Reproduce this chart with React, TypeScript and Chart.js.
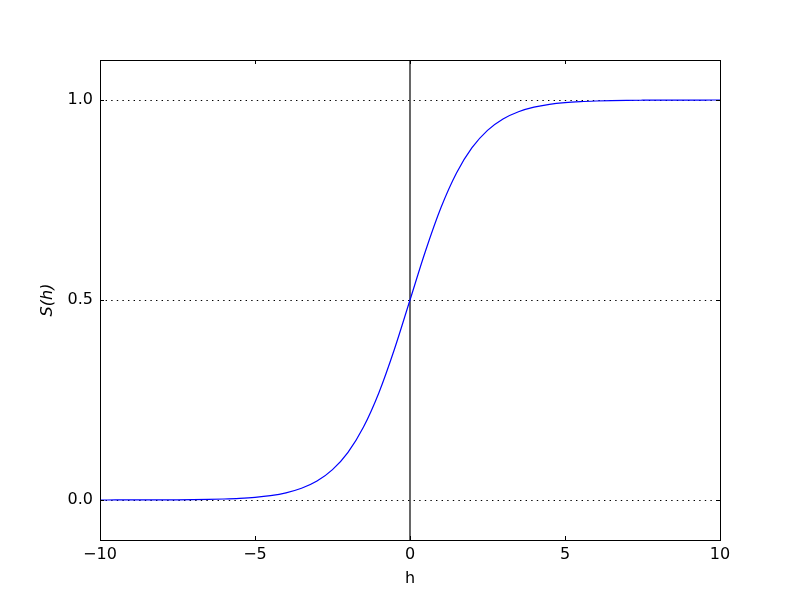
import React, { useEffect, useRef } from "react";
import { Chart, registerables } from "chart.js";

Chart.register(...registerables);

const hValues = [
  -10, -9.5, -9, -8.5, -8, -7.5, -7, -6.5, -6, -5.5, -5, -4.5, -4, -3.5, -3, -2.5, -2, -1.5, -1, -0.5,
  0, 0.5, 1, 1.5, 2, 2.5, 3, 3.5, 4, 4.5, 5, 5.5, 6, 6.5, 7, 7.5, 8, 8.5, 9, 9.5, 10,
];
const sValues = [
  0.00005, 0.00007, 0.00012, 0.0002, 0.00034, 0.00055, 0.00091, 0.0015, 0.0025, 0.0041, 0.0067,
  0.011, 0.018, 0.0293, 0.0474, 0.0759, 0.1192, 0.1824, 0.2689, 0.3775, 0.5, 0.6225, 0.7311,
  0.8176, 0.8808, 0.9241, 0.9526, 0.9707, 0.982, 0.989, 0.9933, 0.9959, 0.9975, 0.9985, 0.99909,
  0.99945, 0.99966, 0.9998, 0.99988, 0.99993, 0.99995,
];
const vLineH = [0, 0];
const vLineS = [-0.1, 1.1];
const xTicks = [-10, -5, 0, 5, 10];
const yTicks = [0, 0.5, 1.0];
const xRange = [-10, 10];
const yRange = [-0.1, 1.1];

const framePlugin = {
  id: "frameTicks",
  afterDatasetsDraw(chart: any) {
    const { ctx, chartArea } = chart;
    const { left, right, top, bottom } = chartArea;
    ctx.save();
    ctx.strokeStyle = "#000";
    ctx.lineWidth = 1;
    ctx.strokeRect(left + 0.5, top + 0.5, right - left, bottom - top);
    const len = 4;
    ctx.beginPath();
    const xs = chart.scales.x;
    xs.ticks.forEach((t: any) => {
      const px = Math.round(xs.getPixelForValue(t.value)) + 0.5;
      ctx.moveTo(px, bottom);
      ctx.lineTo(px, bottom - len);
      ctx.moveTo(px, top);
      ctx.lineTo(px, top + len);
    });
    const ys = chart.scales.y;
    ys.ticks.forEach((t: any) => {
      const py = Math.round(ys.getPixelForValue(t.value)) + 0.5;
      ctx.moveTo(left, py);
      ctx.lineTo(left + len, py);
      ctx.moveTo(right, py);
      ctx.lineTo(right - len, py);
    });
    ctx.stroke();
    ctx.restore();
  },
};

export default function App() {
  const ref = useRef<HTMLCanvasElement | null>(null);
  useEffect(() => {
    if (!ref.current) return;
    const chart = new Chart(ref.current, {
      type: "scatter",
      data: {
        datasets: [
          {
            data: hValues.map((h, i) => ({ x: h, y: sValues[i] })),
            showLine: true,
            borderColor: "#0000ff",
            backgroundColor: "#0000ff",
            borderWidth: 1.2,
            pointRadius: 0,
            cubicInterpolationMode: "monotone",
          },
          {
            data: vLineH.map((h, i) => ({ x: h, y: vLineS[i] })),
            showLine: true,
            borderColor: "#000000",
            borderWidth: 1.2,
            pointRadius: 0,
          },
        ],
      },
      options: {
        responsive: false,
        animation: false,
        layout: { padding: { top: 60, right: 80, left: 0, bottom: 0 } },
        plugins: { legend: { display: false }, tooltip: { enabled: false } },
        scales: {
          x: {
            type: "linear",
            min: xRange[0],
            max: xRange[1],
            afterBuildTicks: (s: any) => {
              s.ticks = xTicks.map((v) => ({ value: v }));
            },
            afterFit: (s: any) => {
              s.height = 60;
            },
            grid: { display: false, drawTicks: false },
            border: { display: false },
            ticks: {
              color: "#000",
              padding: 5,
              maxRotation: 0,
              font: { family: "DejaVu Sans", size: 16 },
              callback: (v: any) => String(v).replace("-", "\u2212"),
            },
            title: {
              display: true,
              text: "h",
              color: "#000",
              font: { family: "DejaVu Sans", size: 16 },
              padding: { top: 0, bottom: 12 },
            },
          },
          y: {
            type: "linear",
            min: yRange[0],
            max: yRange[1],
            afterBuildTicks: (s: any) => {
              s.ticks = yTicks.map((v) => ({ value: v }));
            },
            afterFit: (s: any) => {
              s.width = 100;
            },
            grid: {
              display: true,
              drawTicks: false,
              color: "#000",
              lineWidth: 1,
            },
            border: { display: false, dash: [1.4, 4.2] },
            ticks: {
              color: "#000",
              padding: 7,
              font: { family: "DejaVu Sans", size: 16 },
              callback: (v: any) => Number(v).toFixed(1),
            },
            title: {
              display: true,
              text: "S(h)",
              color: "#000",
              font: { family: "DejaVu Sans", size: 16, style: "italic" },
              padding: { top: 38, bottom: 0 },
            },
          },
        },
      },
      plugins: [framePlugin],
    } as any);
    return () => chart.destroy();
  }, []);
  return (
    <div style={{ position: "absolute", left: 0, top: 0, width: 800, height: 600, background: "#fff" }}>
      <canvas ref={ref} width={800} height={600} style={{ display: "block" }} />
    </div>
  );
}
